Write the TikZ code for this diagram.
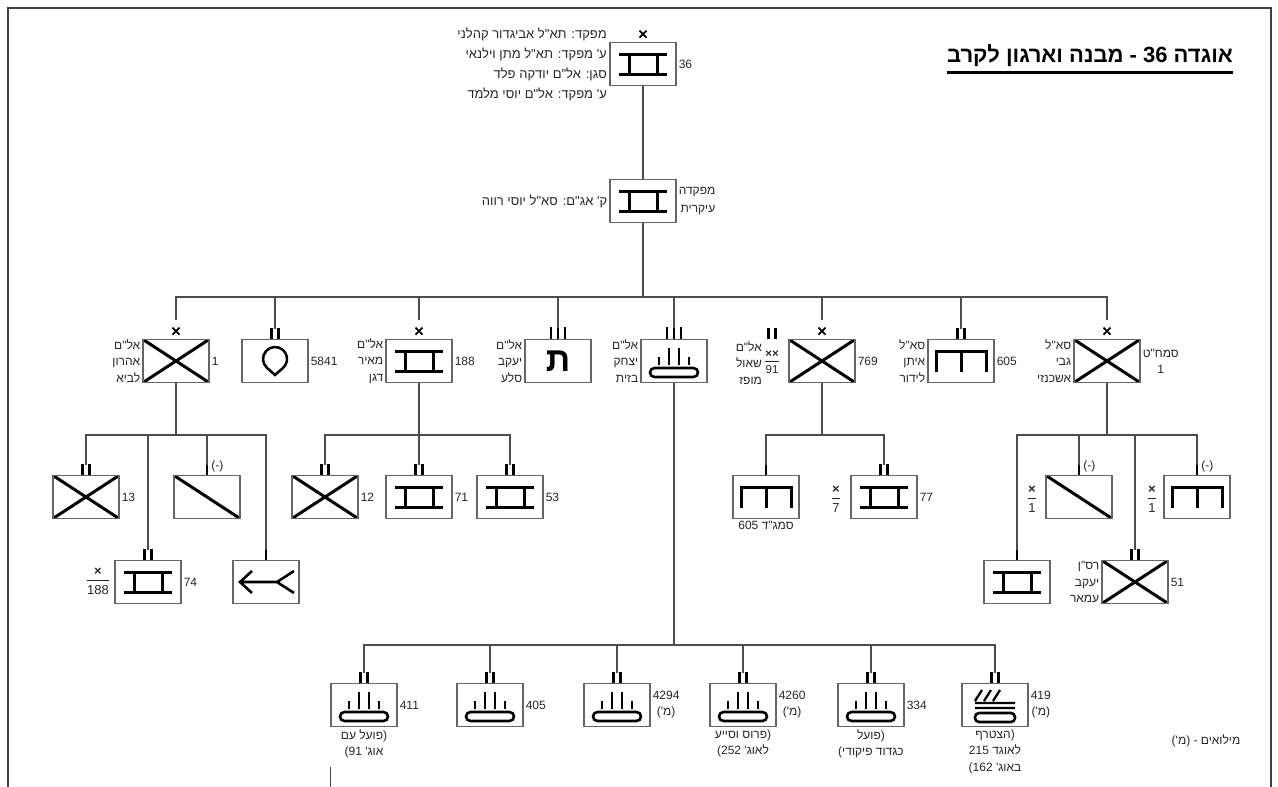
\documentclass[tikz,border=0pt]{standalone}
\usepackage{fontspec}
\setmainfont{Liberation Sans}
\newfontfamily\hebfont[Script=Hebrew]{Liberation Sans}
\TeXXeTstate=1
\newcommand{\heb}[1]{{\hebfont\beginR #1\endR}}
\newcommand{\frc}[2]{\renewcommand{\arraystretch}{1.1}\begin{tabular}{@{}c@{}}{\bfseries #1}\\\hline\rule{0pt}{1.05em}#2\end{tabular}}
\tikzset{
  unit/.style={draw=black!60, line width=1.2pt, minimum width=66, minimum height=43, inner sep=0},
  sym/.style={line width=3pt, black},
  inf/.style={unit, path picture={\draw[sym] (path picture bounding box.north west) -- (path picture bounding box.south east) (path picture bounding box.south west) -- (path picture bounding box.north east);}},
  cav/.style={unit, path picture={\draw[sym] (path picture bounding box.north west) -- (path picture bounding box.south east);}},
  armor/.style={unit, path picture={\draw[sym, shift={(path picture bounding box.center)}] (-24,-10) -- (24,-10) (-24,10) -- (24,10) (-14,-10) -- (-14,10) (14,-10) -- (14,10);}},
  engr/.style={unit, path picture={\draw[sym, shift={(path picture bounding box.center)}] (-25,11) -- (-25,-10) -- (25,-10) -- (25,11) (0,-10) -- (0,11);}},
  arty/.style={unit, path picture={\draw[sym, line width=2.6pt, shift={(path picture bounding box.center)}] (-15,4) -- (-15,-4) (-5,4) -- (-5,-13) (5,4) -- (5,-13) (15,4) -- (15,-4);
    \draw[sym, line width=2.6pt, rounded corners=4.5, shift={(path picture bounding box.center)}] (-24,7) rectangle (24,16);}},
  mlrs/.style={unit, path picture={\draw[sym, line width=2.3pt, shift={(path picture bounding box.center)}] (-20,-2) -- (20,-2) (-20,3) -- (20,3) (-20,-4) -- (-13,-15) (-11,-4) -- (-4,-15) (-2,-4) -- (5,-15);
    \draw[sym, line width=2.6pt, rounded corners=4, shift={(path picture bounding box.center)}] (-20,8) rectangle (20,17);}},
  drop/.style={unit, path picture={\draw[sym, line width=2.5pt, shift={(path picture bounding box.center)}] (0,14) -- (-7.9,7) arc[start angle=131.4, end angle=408.6, radius=12] -- cycle;}},
  atk/.style={unit, path picture={\draw[sym, line width=2.6pt, shift={(path picture bounding box.center)}] (-14,-11) -- (-26,0) -- (-14,11) (-26,0) -- (11,0) (28,-11) -- (11,0) -- (28,11);}},
  brig/.style={inner sep=0, minimum width=10, minimum height=19, anchor=south, path picture={\draw[line width=1.8pt, black, shift={(path picture bounding box.center)}] (-3.5,5.5) -- (3.5,-1.5) (-3.5,-1.5) -- (3.5,5.5);}},
  bn/.style={inner sep=0, minimum width=11, minimum height=10, anchor=south, path picture={\draw[line width=2.8pt, black, shift={(path picture bounding box.center)}] (-3.5,-6) -- (-3.5,6) (3.5,-6) -- (3.5,6);}},
  rgt/.style={inner sep=0, minimum width=20, minimum height=11, anchor=south, path picture={\draw[line width=2.8pt, black, shift={(path picture bounding box.center)}] (-7,-6) -- (-7,6) (0,-6) -- (0,6) (7,-6) -- (7,6);}},
  coy/.style={inner sep=0, minimum width=6, minimum height=10, anchor=south, path picture={\draw[line width=2.8pt, black, shift={(path picture bounding box.center)}] (0,-6) -- (0,6);}},
  part/.style={anchor=west, inner sep=1pt, yshift=3pt, font=\fontsize{12}{12}\selectfont},
  num/.style={anchor=west, inner sep=2pt},
  who/.style={anchor=east, align=right, inner sep=2pt, font=\fontsize{12}{16.5}\selectfont},
  under/.style={anchor=north, align=center, inner sep=2pt, font=\fontsize{12}{16.5}\selectfont},
  fr/.style={inner sep=1pt, font=\fontsize{13}{14}\selectfont},
  conn/.style={line width=1.3pt, black!70}
}
\begin{document}
\begin{tikzpicture}[x=1pt, y=-1pt, font=\fontsize{12}{16}\selectfont, text=black!85]
\useasboundingbox (0,0) rectangle (1278,787);
%Frame
\draw[line width=1.8pt, black!75] (8,787) -- (8,8) -- (1271,8) -- (1271,787);
\draw[black!70] (330,767) -- (330,787);
%Title
\node[inner sep=0, anchor=base, font=\hebfont\bfseries\fontsize{22}{26}\selectfont, text=black] (title) at (1090,62) {\heb{אוגדה 36 - מבנה וארגון לקרב}};
\draw[line width=2.6pt] ([yshift=-6pt]title.south west) -- ([yshift=-6pt]title.south east);

%Division
\node[armor] (div) at (643,64) {};
\node[brig] (divm) at (div.north) {};
\node[num] (divn) at (div.east) {36};
\node[who, anchor=north east, inner sep=0, font=\fontsize{13}{20}\selectfont] (divc) at (607,28) {\heb{מפקד: תא"ל אביגדור קהלני}\\\heb{ע' מפקד: תא"ל מתן וילנאי}\\\heb{סגן: אל"ם יודקה פלד}\\\heb{ע' מפקד: אל"ם יוסי מלמד}};
%Main HQ
\node[armor] (hq) at (643,201) {};
\node[who, font=\fontsize{13}{16}\selectfont] (hqc) at (hq.west) {\heb{ק' אג"ם: סא"ל יוסי רווה}};
\node[num, align=right, font=\fontsize{12}{18}\selectfont] (hqn) at (hq.east) {\heb{מפקדה}\\\heb{עיקרית}};
\draw[conn] (div) -- (hq);

%Brigades
\coordinate (busA) at (643,297);
\draw[conn] (hq) -- (busA);
\node[inf] (g1) at (176,361) {};
\node[brig] (g1m) at (g1.north) {};
\node[num] (g1n) at (g1.east) {1};
\node[who] (g1c) at (g1.west) {\heb{אל"ם}\\\heb{אהרון}\\\heb{לביא}};
\node[drop] (g2) at (275,361) {};
\node[bn] (g2m) at (g2.north) {};
\node[num] (g2n) at (g2.east) {5841};
\node[armor] (g3) at (419,361) {};
\node[brig] (g3m) at (g3.north) {};
\node[num] (g3n) at (g3.east) {188};
\node[who] (g3c) at (g3.west) {\heb{אל"ם}\\\heb{מאיר}\\\heb{דגן}};
\node[unit, font=\hebfont\bfseries\fontsize{34}{34}\selectfont, text=black] (g4) at (558,361) {ת};
\node[rgt] (g4m) at (g4.north) {};
\node[who] (g4c) at (g4.west) {\heb{אל"ם}\\\heb{יעקב}\\\heb{סלע}};
\node[arty] (g5) at (674,361) {};
\node[rgt] (g5m) at (g5.north) {};
\node[who] (g5c) at (g5.west) {\heb{אל"ם}\\\heb{יצחק}\\\heb{בזית}};
\node[inf] (g6) at (822,361) {};
\node[brig] (g6m) at (g6.north) {};
\node[num] (g6n) at (g6.east) {769};
\node[fr, font=\fontsize{11.5}{12}\selectfont] (g6f) at (772,363) {\frc{××}{91}};
\node[bn] (g6b) at (772,339) {};
\node[who] (g6c) at (g6f.west) {\heb{אל"ם}\\\heb{שאול}\\\heb{מופז}};
\node[engr] (g7) at (961,361) {};
\node[bn] (g7m) at (g7.north) {};
\node[num] (g7n) at (g7.east) {605};
\node[who] (g7c) at (g7.west) {\heb{סא"ל}\\\heb{איתן}\\\heb{לידור}};
\node[inf] (g8) at (1107,361) {};
\node[brig] (g8m) at (g8.north) {};
\node[num, align=center] (g8n) at (g8.east) {\heb{סמח"ט}\\1};
\node[who] (g8c) at (g8.west) {\heb{סא"ל}\\\heb{גבי}\\\heb{אשכנזי}};
\foreach \u in {g1m,g2m,g3m,g4m,g5m,g6m,g7m,g8m}
  \draw[conn] (busA) -| (\u.north);

%Brigade 1
\coordinate (busB) at (176,435);
\draw[conn] (g1) -- (busB);
\node[inf] (c13) at (86,497) {};
\node[bn] (c13m) at (c13.north) {};
\node[num] (c13n) at (c13.east) {13};
\node[armor] (c74) at (148,582) {};
\node[bn] (c74m) at (c74.north) {};
\node[num] (c74n) at (c74.east) {74};
\node[fr] (c74f) at (98,582) {\frc{×}{188}};
\node[cav] (cs1) at (207,497) {};
\node[coy] (cs1m) at (cs1.north) {};
\node[part] (cs1p) at (cs1m.east) {(-)};
\node[atk] (cat) at (266,582) {};
\node[coy] (catm) at (cat.north) {};
\foreach \u in {c13m,c74m,cs1m,catm}
  \draw[conn] (busB) -| (\u.north);

%Brigade 188
\coordinate (busD) at (419,435);
\draw[conn] (g3) -- (busD);
\node[inf] (c12) at (325,497) {};
\node[bn] (c12m) at (c12.north) {};
\node[num] (c12n) at (c12.east) {12};
\node[armor] (c71) at (419,497) {};
\node[bn] (c71m) at (c71.north) {};
\node[num] (c71n) at (c71.east) {71};
\node[armor] (c53) at (510,497) {};
\node[bn] (c53m) at (c53.north) {};
\node[num] (c53n) at (c53.east) {53};
\foreach \u in {c12m,c71m,c53m}
  \draw[conn] (busD) -| (\u.north);

%Brigade 769
\coordinate (busE) at (822,435);
\draw[conn] (g6) -- (busE);
\node[engr] (c605) at (766,497) {};
\node[coy] (c605m) at (c605.north) {};
\node[under] (c605u) at (c605.south) {\heb{סמג"ד 605}};
\node[armor] (c77) at (884,497) {};
\node[bn] (c77m) at (c77.north) {};
\node[num] (c77n) at (c77.east) {77};
\node[fr] (c77f) at (836,500) {\frc{×}{7}};
\foreach \u in {c605m,c77m}
  \draw[conn] (busE) -| (\u.north);

%Deputy brigade 1
\coordinate (busF) at (1107,435);
\draw[conn] (g8) -- (busF);
\node[armor] (cab) at (1017,582) {};
\node[coy] (cabm) at (cab.north) {};
\node[cav] (cs2) at (1079,497) {};
\node[coy] (cs2m) at (cs2.north) {};
\node[part] (cs2p) at (cs2m.east) {(-)};
\node[fr] (cs2f) at (1032,500) {\frc{×}{1}};
\node[inf] (c51) at (1135,582) {};
\node[bn] (c51m) at (c51.north) {};
\node[num] (c51n) at (c51.east) {51};
\node[who] (c51c) at (c51.west) {\heb{רס"ן}\\\heb{יעקב}\\\heb{עמאר}};
\node[engr] (cen) at (1197,497) {};
\node[coy] (cenm) at (cen.north) {};
\node[part] (cenp) at (cenm.east) {(-)};
\node[fr] (cenf) at (1152,500) {\frc{×}{1}};
\foreach \u in {cabm,cs2m,c51m,cenm}
  \draw[conn] (busF) -| (\u.north);

%Artillery
\coordinate (busC) at (674,645);
\draw[conn] (g5) -- (busC);
\node[arty] (a1) at (364,705) {};
\node[num] (a1n) at (a1.east) {411};
\node[under] (a1u) at (a1.south) {\heb{(פועל עם}\\\heb{אוג' 91)}};
\node[arty] (a2) at (490,705) {};
\node[num] (a2n) at (a2.east) {405};
\node[arty] (a3) at (617,705) {};
\node[num, align=center] (a3n) at (a3.east) {4294\\\heb{(מ')}};
\node[arty] (a4) at (743,705) {};
\node[num, align=center] (a4n) at (a4.east) {4260\\\heb{(מ')}};
\node[under] (a4u) at (a4.south) {\heb{(פרוס וסייע}\\\heb{לאוג' 252)}};
\node[arty] (a5) at (871,705) {};
\node[num] (a5n) at (a5.east) {334};
\node[under] (a5u) at (a5.south) {\heb{(פועל}\\\heb{כגדוד פיקודי)}};
\node[mlrs] (a6) at (995,705) {};
\node[num, align=center] (a6n) at (a6.east) {419\\\heb{(מ')}};
\node[under] (a6u) at (a6.south) {\heb{(הצטרף}\\\heb{לאוגד 215}\\\heb{באוג' 162)}};
\foreach \a in {a1,a2,a3,a4,a5,a6}
  \node[bn] (\a m) at (\a.north) {};
\foreach \u in {a1m,a2m,a3m,a4m,a5m,a6m}
  \draw[conn] (busC) -| (\u.north);

%Note
\node (note) at (1206,741) {\heb{מילואים - (מ')}};
\end{tikzpicture}
\end{document}
